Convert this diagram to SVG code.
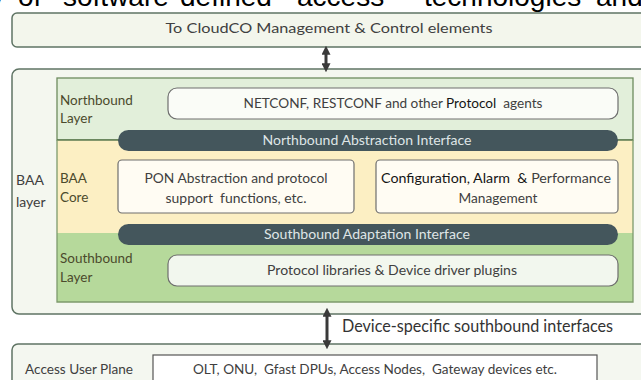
<svg xmlns="http://www.w3.org/2000/svg" width="641" height="380" viewBox="0 0 641 380">
<defs>
<style>
.frame{stroke:#5f7464;stroke-width:1.5}
.lbl{font-family:Lato,"Liberation Sans",sans-serif;font-size:14px;fill:#404040}
.lay{font-family:Lato,"Liberation Sans",sans-serif;font-size:13.5px;fill:#4b4a2c}
.ptxt{font-family:Lato,"Liberation Sans",sans-serif;font-size:13.5px;fill:#dfe5e6}
.pill{fill:#44565c}
.dark{fill:#151515}
.ibox{stroke:#6e6e6e;stroke-width:1.2}
.conn{stroke:#3a3a3a;stroke-width:3;fill:none}
</style>
<marker id="ah" viewBox="0 0 10 10" refX="3" refY="5" markerWidth="3" markerHeight="3" orient="auto-start-reverse" markerUnits="strokeWidth"><path d="M0,0 L10,5 L0,10 z" fill="#3a3a3a"/></marker>
</defs>
<rect width="641" height="380" fill="#ffffff"/>
<text font-family="'Liberation Sans',Arial,sans-serif" font-size="28" fill="#000"><tspan x="-10" y="6">y</tspan><tspan x="18" y="6">of</tspan><tspan x="63" y="6">software</tspan><tspan x="180" y="6">defined</tspan><tspan x="297" y="6">access</tspan><tspan x="424" y="6">technologies</tspan><tspan x="596" y="6">and</tspan></text>

<g id="cloudco">
<rect class="frame" x="12" y="13" width="680" height="34" rx="5" fill="#f3f6ec"/>
<text class="lbl" x="329" y="33" text-anchor="middle" textLength="327" lengthAdjust="spacingAndGlyphs">To CloudCO Management &amp; Control elements</text>
</g>

<g id="baa-layer">
<rect class="frame" x="12" y="69" width="680" height="245" rx="7" fill="#f4f7ef"/>
<text class="lbl" x="16" y="185" font-size="16" fill="#333">BAA</text>
<text class="lbl" x="16" y="207" font-size="16" fill="#333">layer</text>
</g>

<g id="northbound-layer">
<rect x="57" y="78" width="576" height="62" fill="#e2efda" stroke="#6e8c5e" stroke-width="1.3"/>
<text class="lay" x="60" y="105">Northbound</text>
<text class="lay" x="60" y="123">Layer</text>
</g>

<g id="baa-core">
<rect x="57" y="140" width="576" height="93" fill="#fcefc3"/>
<line x1="57" y1="140" x2="633" y2="140" stroke="#5d7a50" stroke-width="1.3"/>
<text class="lay" x="60" y="183">BAA</text>
<text class="lay" x="60" y="202">Core</text>
</g>

<g id="southbound-layer">
<rect x="57" y="233" width="576" height="69" fill="#b6d99b"/>
<path d="M57,140 V302 H633 V140" fill="none" stroke="#7d9a6c" stroke-width="1.3"/>
<text class="lay" x="60" y="263">Southbound</text>
<text class="lay" x="60" y="282">Layer</text>
</g>

<g id="protocol-agents">
<rect class="ibox" x="168" y="88" width="450" height="31" rx="9" fill="#fafcf7"/>
<text class="lbl" x="393" y="108" text-anchor="middle" xml:space="preserve" textLength="299" lengthAdjust="spacingAndGlyphs">NETCONF, RESTCONF and other <tspan class="dark">Protocol</tspan>  agents</text>
</g>

<g id="northbound-abstraction-interface">
<rect class="pill" x="118" y="130" width="500" height="21" rx="10.5"/>
<text class="ptxt" x="367" y="145" text-anchor="middle" textLength="209" lengthAdjust="spacingAndGlyphs">Northbound  Abstraction Interface</text>
</g>

<g id="pon-abstraction">
<rect class="ibox" x="118" y="160" width="236" height="53" rx="4" fill="#fffcf3"/>
<text class="lbl" x="236" y="183" text-anchor="middle" textLength="183" lengthAdjust="spacingAndGlyphs">PON Abstraction and protocol</text>
<text class="lbl" x="236" y="203" text-anchor="middle" xml:space="preserve" textLength="141" lengthAdjust="spacingAndGlyphs">support  functions, etc.</text>
</g>

<g id="fcaps">
<rect class="ibox" x="376" y="160" width="242" height="53" rx="4" fill="#fffcf3"/>
<text class="lbl" x="496" y="183" text-anchor="middle" xml:space="preserve" textLength="230" lengthAdjust="spacingAndGlyphs"><tspan class="dark">Configuration, Alarm  &amp;</tspan> Performance</text>
<text class="lbl" x="498" y="203" text-anchor="middle" textLength="79" lengthAdjust="spacingAndGlyphs">Management</text>
</g>

<g id="southbound-adaptation-interface">
<rect class="pill" x="118" y="224" width="500" height="21" rx="10.5"/>
<text class="ptxt" x="367" y="239" text-anchor="middle" textLength="206" lengthAdjust="spacingAndGlyphs">Southbound  Adaptation Interface</text>
</g>

<g id="protocol-libraries">
<rect class="ibox" x="168" y="255" width="450" height="31" rx="9" fill="#f2f7ee"/>
<text class="lbl" x="392" y="275" text-anchor="middle" textLength="250" lengthAdjust="spacingAndGlyphs">Protocol libraries &amp; Device driver plugins</text>
</g>

<g id="access-user-plane">
<rect class="frame" x="12" y="344" width="680" height="60" rx="6" fill="#f4f7f0"/>
<text class="lbl" x="25" y="374" textLength="108" lengthAdjust="spacingAndGlyphs">Access User Plane</text>
<rect x="153" y="355" width="444" height="40" fill="#ffffff" stroke="#555" stroke-width="1.2"/>
<text class="lbl" x="375" y="374" text-anchor="middle" xml:space="preserve" textLength="364" lengthAdjust="spacingAndGlyphs">OLT, ONU,  Gfast DPUs, Access Nodes,  Gateway devices etc.</text>
</g>

<g id="connectors">
<line class="conn" x1="326" y1="52" x2="326" y2="66" marker-start="url(#ah)" marker-end="url(#ah)"/>
<line class="conn" x1="327" y1="314" x2="327" y2="343" marker-start="url(#ah)" marker-end="url(#ah)"/>
<text x="342" y="332" font-family="Lato,'Liberation Sans',sans-serif" font-size="17" fill="#333" textLength="271" lengthAdjust="spacingAndGlyphs">Device-specific southbound interfaces</text>
</g>
</svg>
